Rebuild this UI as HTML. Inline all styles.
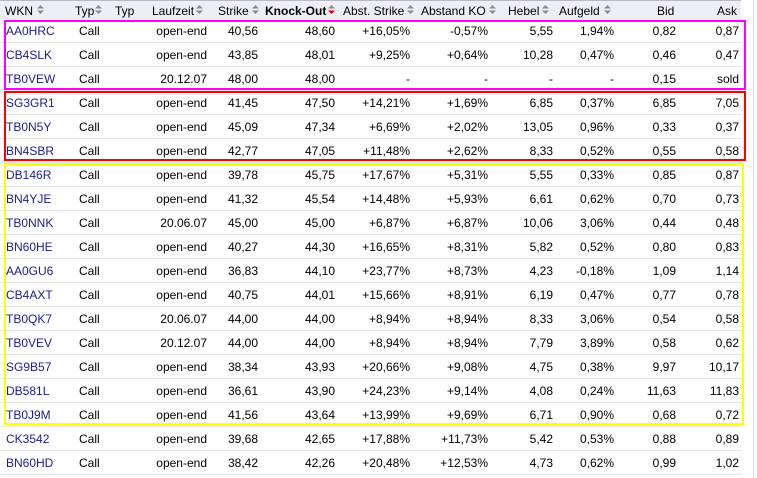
<!DOCTYPE html>
<html><head><meta charset="utf-8"><style>
body{margin:0;width:757px;height:478px;background:#fff;position:relative;overflow:hidden;font-family:"Liberation Sans",Arial,sans-serif;font-size:12px;color:#000}
#hdr{position:absolute;left:0;top:0;width:741px;height:18px;background:#eeeef8;border-top:1px solid #b8b8c8}
#hdr span{position:absolute;top:3px;white-space:nowrap}
.ic{position:absolute;top:4px;width:9px;height:11px}
table{position:absolute;left:0;top:19px;border-collapse:collapse;table-layout:fixed;width:742px}
td{height:23px;border-bottom:1px solid #e6e6e6;padding:0 3px 0 0;text-align:right;white-space:nowrap;overflow:hidden}
td.w{text-align:left;padding-left:6px;color:#1c1c8c}
td.t{text-align:left;padding-left:9px}
.box{position:absolute;box-sizing:border-box;border:2px solid}
#sb{position:absolute;left:753px;top:0;width:1px;height:478px;background:#d8d8e4}
</style></head><body>
<div id="hdr">
<span style="left:5px">WKN</span>
<span style="left:75px">Typ</span>
<span style="left:115px">Typ</span>
<span style="left:152px">Laufzeit</span>
<span style="left:218px">Strike</span>
<span style="left:265px;font-weight:bold">Knock-Out</span>
<span style="left:343px">Abst. Strike</span>
<span style="left:421px">Abstand KO</span>
<span style="left:508px">Hebel</span>
<span style="left:559px">Aufgeld</span>
<span style="left:657px">Bid</span>
<span style="left:717px">Ask</span>
</div>
<svg class="ic" style="left:36px" viewBox="0 0 9 11"><path d="M1 4.5L4.5 1 8 4.5Z M1 6.5L4.5 10 8 6.5Z" fill="#8a8a8a"/></svg>
<svg class="ic" style="left:94px" viewBox="0 0 9 11"><path d="M1 4.5L4.5 1 8 4.5Z M1 6.5L4.5 10 8 6.5Z" fill="#8a8a8a"/></svg>
<svg class="ic" style="left:195px" viewBox="0 0 9 11"><path d="M1 4.5L4.5 1 8 4.5Z M1 6.5L4.5 10 8 6.5Z" fill="#8a8a8a"/></svg>
<svg class="ic" style="left:251px" viewBox="0 0 9 11"><path d="M1 4.5L4.5 1 8 4.5Z M1 6.5L4.5 10 8 6.5Z" fill="#8a8a8a"/></svg>
<svg class="ic" style="left:327px" viewBox="0 0 9 11"><path d="M1 4.5L4.5 1 8 4.5Z" fill="#8a8a8a"/><path d="M1 6.5L4.5 10 8 6.5Z" fill="#e00000"/></svg>
<svg class="ic" style="left:406px" viewBox="0 0 9 11"><path d="M1 4.5L4.5 1 8 4.5Z M1 6.5L4.5 10 8 6.5Z" fill="#8a8a8a"/></svg>
<svg class="ic" style="left:488px" viewBox="0 0 9 11"><path d="M1 4.5L4.5 1 8 4.5Z M1 6.5L4.5 10 8 6.5Z" fill="#8a8a8a"/></svg>
<svg class="ic" style="left:541px" viewBox="0 0 9 11"><path d="M1 4.5L4.5 1 8 4.5Z M1 6.5L4.5 10 8 6.5Z" fill="#8a8a8a"/></svg>
<svg class="ic" style="left:603px" viewBox="0 0 9 11"><path d="M1 4.5L4.5 1 8 4.5Z M1 6.5L4.5 10 8 6.5Z" fill="#8a8a8a"/></svg>
<table>
<colgroup><col style="width:70px"><col style="width:40px"><col style="width:30px"><col style="width:70px"><col style="width:51px"><col style="width:77px"><col style="width:75px"><col style="width:78px"><col style="width:65px"><col style="width:61px"><col style="width:62px"><col style="width:63px"></colgroup>
<tr><td class="w">AA0HRC</td><td class="t">Call</td><td></td><td>open-end</td><td>40,56</td><td>48,60</td><td>+16,05%</td><td>-0,57%</td><td>5,55</td><td>1,94%</td><td>0,82</td><td>0,87</td></tr>
<tr><td class="w">CB4SLK</td><td class="t">Call</td><td></td><td>open-end</td><td>43,85</td><td>48,01</td><td>+9,25%</td><td>+0,64%</td><td>10,28</td><td>0,47%</td><td>0,46</td><td>0,47</td></tr>
<tr><td class="w">TB0VEW</td><td class="t">Call</td><td></td><td>20.12.07</td><td>48,00</td><td>48,00</td><td>-</td><td>-</td><td>-</td><td>-</td><td>0,15</td><td>sold</td></tr>
<tr><td class="w">SG3GR1</td><td class="t">Call</td><td></td><td>open-end</td><td>41,45</td><td>47,50</td><td>+14,21%</td><td>+1,69%</td><td>6,85</td><td>0,37%</td><td>6,85</td><td>7,05</td></tr>
<tr><td class="w">TB0N5Y</td><td class="t">Call</td><td></td><td>open-end</td><td>45,09</td><td>47,34</td><td>+6,69%</td><td>+2,02%</td><td>13,05</td><td>0,96%</td><td>0,33</td><td>0,37</td></tr>
<tr><td class="w">BN4SBR</td><td class="t">Call</td><td></td><td>open-end</td><td>42,77</td><td>47,05</td><td>+11,48%</td><td>+2,62%</td><td>8,33</td><td>0,52%</td><td>0,55</td><td>0,58</td></tr>
<tr><td class="w">DB146R</td><td class="t">Call</td><td></td><td>open-end</td><td>39,78</td><td>45,75</td><td>+17,67%</td><td>+5,31%</td><td>5,55</td><td>0,33%</td><td>0,85</td><td>0,87</td></tr>
<tr><td class="w">BN4YJE</td><td class="t">Call</td><td></td><td>open-end</td><td>41,32</td><td>45,54</td><td>+14,48%</td><td>+5,93%</td><td>6,61</td><td>0,62%</td><td>0,70</td><td>0,73</td></tr>
<tr><td class="w">TB0NNK</td><td class="t">Call</td><td></td><td>20.06.07</td><td>45,00</td><td>45,00</td><td>+6,87%</td><td>+6,87%</td><td>10,06</td><td>3,06%</td><td>0,44</td><td>0,48</td></tr>
<tr><td class="w">BN60HE</td><td class="t">Call</td><td></td><td>open-end</td><td>40,27</td><td>44,30</td><td>+16,65%</td><td>+8,31%</td><td>5,82</td><td>0,52%</td><td>0,80</td><td>0,83</td></tr>
<tr><td class="w">AA0GU6</td><td class="t">Call</td><td></td><td>open-end</td><td>36,83</td><td>44,10</td><td>+23,77%</td><td>+8,73%</td><td>4,23</td><td>-0,18%</td><td>1,09</td><td>1,14</td></tr>
<tr><td class="w">CB4AXT</td><td class="t">Call</td><td></td><td>open-end</td><td>40,75</td><td>44,01</td><td>+15,66%</td><td>+8,91%</td><td>6,19</td><td>0,47%</td><td>0,77</td><td>0,78</td></tr>
<tr><td class="w">TB0QK7</td><td class="t">Call</td><td></td><td>20.06.07</td><td>44,00</td><td>44,00</td><td>+8,94%</td><td>+8,94%</td><td>8,33</td><td>3,06%</td><td>0,54</td><td>0,58</td></tr>
<tr><td class="w">TB0VEV</td><td class="t">Call</td><td></td><td>20.12.07</td><td>44,00</td><td>44,00</td><td>+8,94%</td><td>+8,94%</td><td>7,79</td><td>3,89%</td><td>0,58</td><td>0,62</td></tr>
<tr><td class="w">SG9B57</td><td class="t">Call</td><td></td><td>open-end</td><td>38,34</td><td>43,93</td><td>+20,66%</td><td>+9,08%</td><td>4,75</td><td>0,38%</td><td>9,97</td><td>10,17</td></tr>
<tr><td class="w">DB581L</td><td class="t">Call</td><td></td><td>open-end</td><td>36,61</td><td>43,90</td><td>+24,23%</td><td>+9,14%</td><td>4,08</td><td>0,24%</td><td>11,63</td><td>11,83</td></tr>
<tr><td class="w">TB0J9M</td><td class="t">Call</td><td></td><td>open-end</td><td>41,56</td><td>43,64</td><td>+13,99%</td><td>+9,69%</td><td>6,71</td><td>0,90%</td><td>0,68</td><td>0,72</td></tr>
<tr><td class="w">CK3542</td><td class="t">Call</td><td></td><td>open-end</td><td>39,68</td><td>42,65</td><td>+17,88%</td><td>+11,73%</td><td>5,42</td><td>0,53%</td><td>0,88</td><td>0,89</td></tr>
<tr><td class="w">BN60HD</td><td class="t">Call</td><td></td><td>open-end</td><td>38,42</td><td>42,26</td><td>+20,48%</td><td>+12,53%</td><td>4,73</td><td>0,62%</td><td>0,99</td><td>1,02</td></tr>
</table>
<div class="box" style="left:4px;top:20px;width:742px;height:70px;border-color:#ff00ff"></div>
<div class="box" style="left:4px;top:91px;width:742px;height:70px;border-color:#ff0000"></div>
<div class="box" style="left:4px;top:163px;width:740px;height:262px;border-color:#ffff00"></div>
<div id="sb"></div>
</body></html>
